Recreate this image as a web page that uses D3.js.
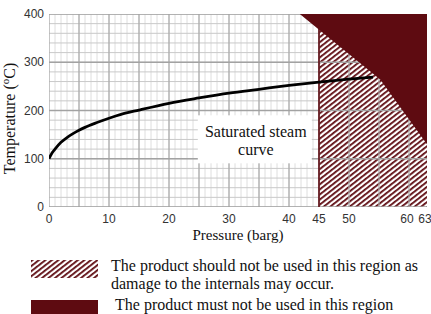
<!DOCTYPE html>
<html>
<head>
<meta charset="utf-8">
<script src="https://cdn.jsdelivr.net/npm/d3@7"></script>
<style>
  body { margin: 0; background: #fff; }
  svg { display: block; }
  .tick-label { font-family: "Liberation Sans", Arial, sans-serif; font-size: 12px; fill: #333; }
  .serif { font-family: "Liberation Serif", "Times New Roman", serif; fill: #111; }
</style>
</head>
<body>
<div id="chart"></div>
<script>
// saturated steam curve (barg -> degC)
const pressure = [0, 0.5, 1, 2, 3, 4, 5, 6, 8, 10, 12, 15, 20, 25, 30, 35, 40, 45, 50, 54];
const temperature = [100, 112, 120, 134, 144, 152, 159, 165, 175, 184, 192, 201, 215, 226, 236, 244, 252, 259, 265, 269];

const xTicks = [0, 10, 20, 30, 40, 45, 50, 60, 63];
const yTicks = [0, 100, 200, 300, 400];

// region the product must not be used in (pressure, temperature)
const mustNotP = [41.8, 63, 63, 55.2];
const mustNotT = [400, 400, 130, 264];
const shouldNotFrom = 45;

const legendText1 = ["The product should not be used in this region as", "damage to the internals may occur."];
const legendText2 = "The product must not be used in this region";

const W = 431, H = 314;
const margin = { top: 14, left: 49 };
const darkRed = "#5e0b11";

const x = d3.scaleLinear().domain([0, 63]).range([0, 378]);
const y = d3.scaleLinear().domain([0, 400]).range([193, 0]);

const svg = d3.select("#chart").append("svg")
  .attr("width", W).attr("height", H);

const defs = svg.append("defs");
const pat = defs.append("pattern")
  .attr("id", "hatch")
  .attr("patternUnits", "userSpaceOnUse")
  .attr("width", 4).attr("height", 4)
  .attr("patternTransform", "rotate(-38)");
pat.append("rect").attr("width", 4).attr("height", 4).attr("fill", "#fff");
pat.append("rect").attr("width", 4).attr("height", 1.8).attr("fill", darkRed);

defs.append("clipPath").attr("id", "plotclip")
  .append("rect").attr("width", x(63)).attr("height", y(0));

const g = svg.append("g")
  .attr("transform", "translate(" + margin.left + "," + margin.top + ")");

const plot = g.append("g").attr("clip-path", "url(#plotclip)");

// minor grid
plot.selectAll("line.vminor")
  .data(d3.range(0, 64, 1))
  .enter().append("line")
  .attr("x1", d => x(d)).attr("x2", d => x(d))
  .attr("y1", 0).attr("y2", y(0))
  .attr("stroke", "#dedede").attr("stroke-width", 1);
plot.selectAll("line.hminor")
  .data(d3.range(0, 401, 20))
  .enter().append("line")
  .attr("x1", 0).attr("x2", x(63))
  .attr("y1", d => y(d)).attr("y2", d => y(d))
  .attr("stroke", "#c9c9c9").attr("stroke-width", 1);

// should-not region (hatched)
plot.append("rect")
  .attr("x", x(shouldNotFrom)).attr("y", y(400))
  .attr("width", x(63) - x(shouldNotFrom)).attr("height", y(0) - y(400))
  .attr("fill", "url(#hatch)");

// major grid
plot.selectAll("line.vmajor")
  .data(d3.range(0, 64, 5))
  .enter().append("line")
  .attr("x1", d => x(d)).attr("x2", d => x(d))
  .attr("y1", 0).attr("y2", y(0))
  .attr("stroke", "#a9a9a9").attr("stroke-width", 1.2);
plot.selectAll("line.hmajor")
  .data(d3.range(0, 401, 100))
  .enter().append("line")
  .attr("x1", 0).attr("x2", x(63))
  .attr("y1", d => y(d)).attr("y2", d => y(d))
  .attr("stroke", "#a2a2a2").attr("stroke-width", 1.4);

plot.append("line")
  .attr("x1", x(shouldNotFrom)).attr("x2", x(shouldNotFrom))
  .attr("y1", y(400)).attr("y2", y(0))
  .attr("stroke", darkRed).attr("stroke-width", 1.6);

// must-not region
plot.append("polygon")
  .attr("points", mustNotP.map((p, i) => x(p) + "," + y(mustNotT[i])).join(" "))
  .attr("fill", darkRed);

// steam curve
const line = d3.line()
  .x((d, i) => x(pressure[i]))
  .y(d => y(d))
  .curve(d3.curveMonotoneX);
plot.append("path")
  .datum(temperature)
  .attr("d", line)
  .attr("fill", "none")
  .attr("stroke", "#000")
  .attr("stroke-width", 2.8);

// label box
const box = g.append("g").attr("transform", "translate(" + (x(24.8)) + "," + (y(190)) + ")");
box.append("rect").attr("width", 114).attr("height", 48).attr("fill", "#fff");
box.append("text").attr("class", "serif")
  .attr("x", 58).attr("y", 22).attr("text-anchor", "middle")
  .style("font-size", "16px").text("Saturated steam");
box.append("text").attr("class", "serif")
  .attr("x", 58).attr("y", 40).attr("text-anchor", "middle")
  .style("font-size", "16px").text("curve");

// tick labels
g.selectAll("text.xt")
  .data(xTicks)
  .enter().append("text")
  .attr("class", "tick-label")
  .attr("x", d => x(d) + (d === 63 ? -2 : (d === 60 ? -2 : 0)))
  .attr("y", y(0) + 16)
  .attr("text-anchor", "middle")
  .text(d => d);
g.selectAll("text.yt")
  .data(yTicks)
  .enter().append("text")
  .attr("class", "tick-label")
  .attr("x", -5)
  .attr("y", d => y(d) + 4)
  .attr("text-anchor", "end")
  .text(d => d);

// axis titles
g.append("text").attr("class", "serif")
  .attr("x", x(31.5)).attr("y", y(0) + 33)
  .attr("text-anchor", "middle")
  .style("font-size", "15px")
  .text("Pressure (barg)");

const yt = g.append("text").attr("class", "serif")
  .attr("transform", "translate(" + (-34) + "," + (y(0) / 2 + 8) + ") rotate(-90)")
  .attr("text-anchor", "middle")
  .style("font-size", "16px");
yt.append("tspan").text("Temperature (");
yt.append("tspan").attr("dy", -6).style("font-size", "11px").text("o");
yt.append("tspan").attr("dy", 6).text("C)");

// legend
const leg = svg.append("g");
leg.append("rect").attr("x", 31).attr("y", 260).attr("width", 67).attr("height", 18)
  .attr("fill", "url(#hatch)");
leg.append("rect").attr("x", 31).attr("y", 300).attr("width", 67).attr("height", 14)
  .attr("fill", darkRed);
leg.selectAll("text.l1")
  .data(legendText1)
  .enter().append("text")
  .attr("class", "serif")
  .attr("x", 111).attr("y", (d, i) => 271 + i * 18)
  .style("font-size", "16px")
  .text(d => d);
leg.append("text").attr("class", "serif")
  .attr("x", 115).attr("y", 310)
  .style("font-size", "16px")
  .text(legendText2);
</script>
</body>
</html>
